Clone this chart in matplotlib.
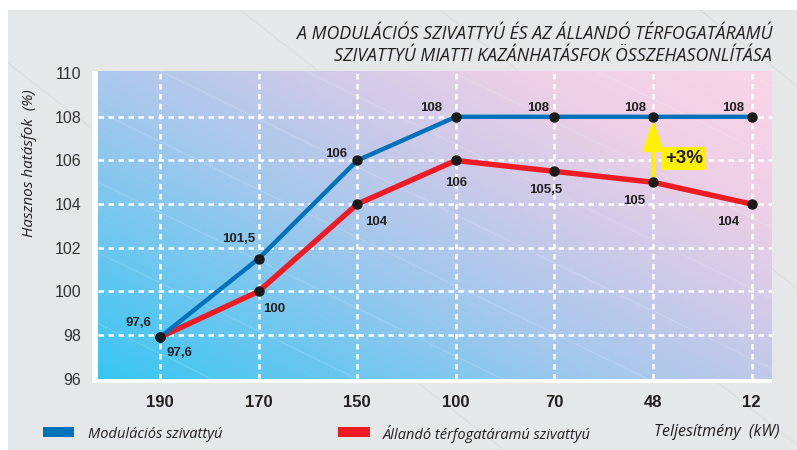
import matplotlib
matplotlib.use("Agg")
import matplotlib.pyplot as plt
import numpy as np
from matplotlib.patches import Rectangle

# chart data (first point drawn on the 98 line as in the source picture)
categories = ['190', '170', '150', '100', '70', '48', '12']
modulacios = [97.9, 101.5, 106, 108, 108, 108, 108]
allando = [97.9, 100, 104, 106, 105.5, 105, 104]
mod_labels = ['97,6', '101,5', '106', '108', '108', '108', '108']
all_labels = ['97,6', '100', '104', '106', '105,5', '105', '104']
y_ticks = [96, 98, 100, 102, 104, 106, 108, 110]
grid_y = [98, 100, 102, 104, 106, 108]

# label offsets in pixels (dx, dy)
mod_offsets = [(-22, 14), (-20, 20), (-21, 6), (-25, 9), (-16, 9), (-18, 9), (-19, 9)]
all_offsets = [(19, -16), (15, -18), (19, -18), (0, -23), (-9, -19), (-19, -19), (-23, -18)]

W, H = 797, 450
BLUE = '#0072bc'
RED = '#ed1c24'
YELLOW = '#fff200'
TXT = '#231f20'
NUM_FONT = ['Liberation Sans', 'DejaVu Sans']
IT_FONT = ['Open Sans', 'DejaVu Sans']


def fx(x):
    return x / W


def fy(y):
    return 1 - y / H


fig = plt.figure(figsize=(W / 100, H / 100), dpi=100)
fig.patch.set_facecolor('white')

# grey panel with faint diagonal bands
panel = Rectangle((fx(8), 0), 1 - fx(8), fy(10), transform=fig.transFigure,
                  facecolor='#e6e7e8', edgecolor='none', zorder=0)
fig.patches.append(panel)
for x0 in [-60, 240, 440, 700]:
    xs = np.array([x0, x0 + 600])
    ys = np.array([10, 10 + 600 * 0.78])
    ln = plt.Line2D(fx(xs), fy(ys), transform=fig.transFigure,
                    color='#dadbdd', lw=0.6, zorder=0.5)
    ln.set_clip_path(panel)
    fig.lines.append(ln)

# white frame behind plot area
fig.patches.append(Rectangle((fx(92), fy(383)), fx(772) - fx(92), fy(71) - fy(383),
                             transform=fig.transFigure, facecolor='white',
                             edgecolor='none', zorder=1))

ax = fig.add_axes([fx(98), fy(378.6), fx(772) - fx(98), fy(71) - fy(378.6)])
ax.set_zorder(2)
x = np.arange(len(categories))
ax.set_xlim(-0.63, 6.206)
ax.set_ylim(96, 110.1)

# gradient background
n = 200
u = np.linspace(0, 1, n)[None, :]
v = np.linspace(0, 1, n)[:, None]
t = np.clip(0.55 * u + 0.45 * v, 0, 1)
stops_t = [0.0, 0.4, 0.6, 0.8, 1.0]
stops_c = np.array([[55, 198, 242], [160, 200, 237], [203, 202, 233],
                    [238, 208, 230], [250, 213, 230]]) / 255
img = np.stack([np.interp(t, stops_t, stops_c[:, k]) for k in range(3)], axis=-1)
ax.imshow(img, extent=[0, 1, 0, 1], transform=ax.transAxes, origin='lower',
          aspect='auto', zorder=0)
for k in np.linspace(-1.2, 1.6, 14):
    ax.plot([k, k + 1.5], [1, -0.6], transform=ax.transAxes, color='white',
            lw=0.5, alpha=0.22, zorder=0.5)

# dashed grid
for gy in grid_y:
    ax.axhline(gy, color='white', lw=1.8, ls=(0, (2.2, 1.8)), zorder=1)
for gx in x:
    ax.axvline(gx, color='white', lw=1.8, ls=(0, (2.2, 1.8)), zorder=1)

for s in ax.spines.values():
    s.set_visible(False)
ax.tick_params(length=0)
ax.set_xticks(x)
ax.set_xticklabels(categories, fontsize=12, fontweight='bold', family=NUM_FONT,
                   color=TXT)
ax.tick_params(axis='x', pad=12)
ax.set_yticks(y_ticks)
ax.set_yticklabels([str(v) for v in y_ticks], fontsize=11.5, family=NUM_FONT,
                   color='#333333')
ax.tick_params(axis='y', pad=12)

# series
ax.plot(x, allando, color=RED, lw=3.9, zorder=3, solid_capstyle='butt')
ax.plot(x, modulacios, color=BLUE, lw=3.2, zorder=3, solid_capstyle='butt')
ax.plot(x, modulacios, 'o', color='#1a1a1a', ms=6.5, zorder=5)
ax.plot(x, allando, 'o', color='#1a1a1a', ms=6.5, zorder=5)

for i in range(len(x)):
    ax.annotate(mod_labels[i], (x[i], modulacios[i]), xytext=mod_offsets[i],
                textcoords='offset pixels', ha='center', va='center',
                fontsize=9.5, fontweight='bold', family=NUM_FONT, color=TXT,
                zorder=6)
    ax.annotate(all_labels[i], (x[i], allando[i]), xytext=all_offsets[i],
                textcoords='offset pixels', ha='center', va='center',
                fontsize=9.5, fontweight='bold', family=NUM_FONT, color=TXT,
                zorder=6)

# +3% arrow between the series at 48 kW
ax.annotate('', xy=(x[5], modulacios[5]), xytext=(x[5], allando[5]),
            arrowprops=dict(arrowstyle='-|>,head_width=0.5,head_length=1.5',
                            mutation_scale=12, color=YELLOW, lw=2.6,
                            shrinkA=0, shrinkB=2),
            zorder=4)
ax.annotate('+3%', (x[5], (modulacios[5] + allando[5]) / 2), xytext=(31, -9),
            textcoords='offset pixels', ha='center', va='center',
            fontsize=13.5, fontweight='bold', family=NUM_FONT, color=TXT,
            bbox=dict(boxstyle='square,pad=0.18', fc=YELLOW, ec='none'),
            zorder=6)

# titles and labels
fig.text(fx(772), fy(34), 'A MODULÁCIÓS SZIVATTYÚ ÉS AZ ÁLLANDÓ TÉRFOGATÁRAMÚ',
         ha='right', va='center', fontsize=12.8, style='italic', family=IT_FONT,
         color=TXT)
fig.text(fx(772), fy(56), 'SZIVATTYÚ MIATTI KAZÁNHATÁSFOK ÖSSZEHASONLÍTÁSA',
         ha='right', va='center', fontsize=12.8, style='italic', family=IT_FONT,
         color=TXT)
fig.text(fx(30), fy(163), 'Hasznos hatásfok  (%)', rotation=90, ha='center',
         va='center', fontsize=11, style='italic', family=IT_FONT, color=TXT)

# legend
fig.patches.append(Rectangle((fx(43), fy(437)), fx(31), 10 / H, transform=fig.transFigure,
                             facecolor=BLUE, edgecolor='none', zorder=3))
fig.text(fx(88), fy(434), 'Modulációs szivattyú', ha='left', va='center',
         fontsize=10.5, style='italic', family=IT_FONT, color=TXT)
fig.patches.append(Rectangle((fx(338), fy(437)), fx(32), 10 / H, transform=fig.transFigure,
                             facecolor=RED, edgecolor='none', zorder=3))
fig.text(fx(383), fy(434), 'Állandó térfogatáramú szivattyú', ha='left', va='center',
         fontsize=10.5, style='italic', family=IT_FONT, color=TXT)
fig.text(fx(779), fy(432), 'Teljesítmény  (kW)', ha='right', va='center',
         fontsize=11.5, style='italic', family=IT_FONT, color=TXT)

fig.savefig('out.png', dpi=100)
